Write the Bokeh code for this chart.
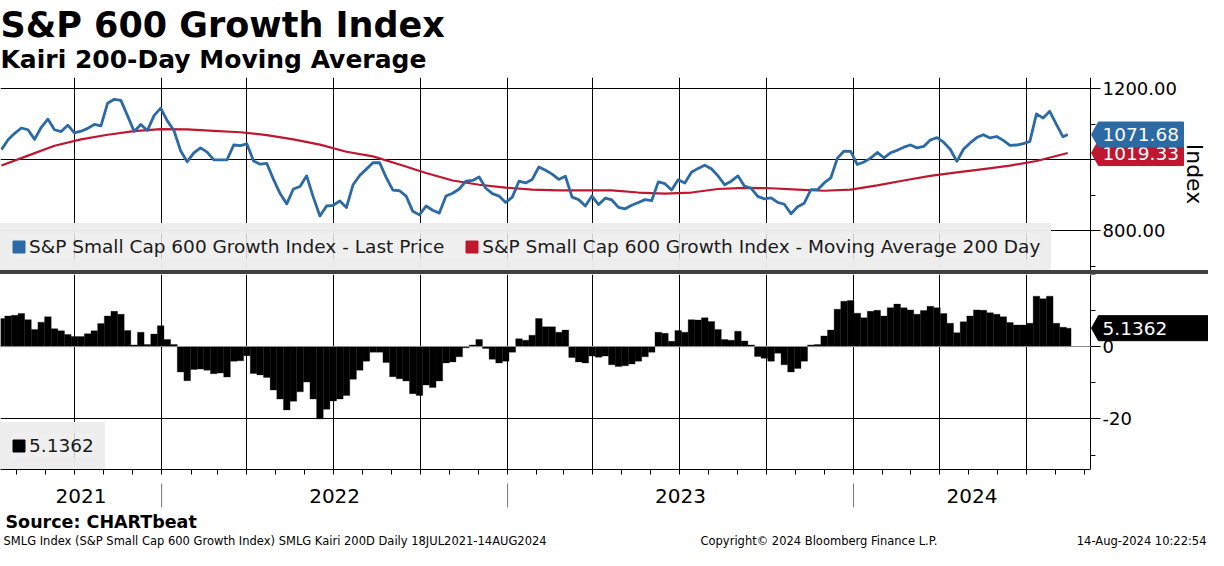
import pandas as pd
from bokeh.plotting import figure
from bokeh.models import (Range1d, LinearAxis, DatetimeAxis, FixedTicker, MonthsTicker, Grid,
                          NumeralTickFormatter, CustomJSTickFormatter, Legend, LegendItem,
                          Label, Div, ColumnDataSource)
from bokeh.layouts import column
from bokeh.core.properties import value
from bokeh.embed import file_html
from bokeh.resources import INLINE

# ---------------- data ----------------
week_first = "2021-07-16"
week_last = "2024-08-09"
last_day = "2024-08-14"

price_weekly = [
    1029, 1057, 1075, 1090, 1085, 1058, 1092, 1115, 1085, 1080,
    1098, 1076, 1081, 1089, 1100, 1096, 1160, 1171, 1168, 1125,
    1080, 1100, 1083, 1125, 1146, 1110, 1083, 1026, 995, 1020,
    1034, 1022, 1000, 1000, 1000, 1042, 1040, 1045, 997, 988,
    990, 945, 905, 876, 918, 925, 955, 895, 842, 870,
    872, 884, 866, 930, 956, 974, 992, 992, 950, 915,
    913, 898, 855, 845, 870, 858, 850, 898, 906, 918,
    940, 942, 952, 920, 905, 898, 880, 895, 940, 935,
    945, 980, 971, 960, 945, 954, 895, 888, 870, 898,
    874, 892, 887, 866, 862, 872, 880, 888, 885, 938,
    933, 915, 944, 935, 965, 976, 985, 975, 955, 930,
    940, 955, 926, 920, 897, 890, 893, 880, 875, 848,
    868, 878, 916, 916, 935, 949, 1005, 1025, 1024, 987,
    994, 1005, 1021, 1006, 1020, 1027, 1036, 1042, 1034, 1038,
    1056, 1063, 1050, 1030, 996, 1030, 1048, 1063, 1071, 1062,
    1066, 1055, 1041, 1042, 1046, 1052, 1130, 1118, 1137, 1100,
    1065,
]
price_last = 1071.68

ma_every4 = [
    984, 1012, 1040, 1058, 1071, 1081, 1087, 1086, 1082, 1078,
    1070, 1058, 1043, 1023, 1010, 987, 963, 942, 930, 922,
    916, 914, 914, 914, 908, 905, 908, 918, 921, 920,
    916, 913, 916, 928, 942, 955, 965, 974, 984, 997,
    1016,
]
ma_last = 1019.33

kairi_weekly = [
    7.8, 8.5, 8.7, 9.2, 7.5, 4.8, 6.8, 8.3, 5.0, 4.4,
    3.4, 2.8, 2.8, 3.6, 4.4, 6.4, 8.5, 9.8, 9.0, 4.5,
    0.5, 4.0, 0.6, 3.5, 5.8, 2.0, 0.6, -7.0, -9.4, -6.3,
    -6.2, -6.5, -7.5, -7.3, -8.4, -4.0, -3.9, -2.5, -7.4, -7.8,
    -8.5, -12.0, -14.5, -17.5, -15.1, -12.5, -9.8, -14.5, -20.0, -17.3,
    -15.0, -14.5, -13.5, -9.0, -6.5, -4.0, -1.5, -1.5, -4.4, -8.3,
    -8.9, -9.5, -13.0, -13.5, -10.6, -11.3, -9.5, -4.5, -4.2, -2.8,
    -0.3, 0.5, 2.0, -0.5, -3.5, -4.5, -4.0, -1.5, 2.2, 1.8,
    3.2, 7.8, 5.5, 5.5, 4.0, 4.6, -3.0, -4.2, -4.5, -2.6,
    -2.9, -2.6, -5.0, -5.5, -5.3, -4.8, -4.0, -2.8, -1.5, 4.0,
    3.7, 1.5, 4.5, 4.0, 7.5, 7.4, 8.0, 7.0, 4.8, 2.0,
    1.8, 4.3, 1.6, 0.5, -2.7, -3.2, -4.0, -1.8, -5.0, -7.0,
    -6.0, -4.0, 0.5, 0.6, 3.0, 4.6, 10.4, 12.6, 12.8, 9.3,
    8.0, 9.8, 10.1, 8.5, 10.8, 11.8, 10.8, 10.2, 9.0, 10.0,
    11.2, 10.8, 9.2, 6.5, 3.9, 6.9, 8.5, 10.2, 10.1, 9.4,
    9.0, 8.3, 6.7, 6.0, 6.0, 6.5, 14.0, 13.3, 14.0, 6.5,
    5.4,
]
kairi_last = 5.1362

year_starts = ["2022-01-01", "2023-01-01", "2024-01-01"]
year_labels = ["2021", "2022", "2023", "2024"]
price_ticks = [800, 1000, 1200]
price_minor = [700, 900, 1100]
kairi_ticks = [-20, 0]
kairi_minor = [-30, -10, 10, 20]

title_text = "S&P 600 Growth Index"
subtitle_text = "Kairi 200-Day Moving Average"
legend_price = "S&P Small Cap 600 Growth Index - Last Price"
legend_ma = "S&P Small Cap 600 Growth Index - Moving Average 200 Day"
source_text = "Source: CHARTbeat"
footer_left = "SMLG Index (S&P Small Cap 600 Growth Index) SMLG Kairi 200D  Daily 18JUL2021-14AUG2024"
footer_mid = "Copyright\u00a9 2024 Bloomberg Finance L.P."
footer_right = "14-Aug-2024 10:22:54"

# ---------------- derived containers ----------------
dates = list(pd.date_range(week_first, week_last, freq="7D")) + [pd.Timestamp(last_day)]
price = price_weekly + [price_last]
kairi = kairi_weekly + [kairi_last]
ma_dates = dates[:-1][::4] + [dates[-1]]
ma = ma_every4 + [ma_last]

src_price = ColumnDataSource(dict(date=dates, price=price, kairi=kairi))
src_ma = ColumnDataSource(dict(date=ma_dates, ma=ma))

# ---------------- styling / layout constants ----------------
BLUE = "#2c6aa5"
RED = "#bf1730"
FONT = "DejaVu Sans"
LEG_BG = "#ececec"
W = 1208          # full width
FW = 1090         # x position of the value axis (plot area width)
H0 = 77           # title band
FH1 = 193         # price panel
SEP = 4
FH2 = 195         # kairi panel
BOT2 = 8          # month tick marks
H3 = 550 - H0 - FH1 - SEP - FH2 - BOT2
DAY = 86400000
BASE = 0.37       # baseline correction (fraction of font size)

EPOCH = pd.Timestamp("1970-01-01")


def ms(t):
    return (pd.Timestamp(t) - EPOCH) / pd.Timedelta(milliseconds=1)


x_start = pd.Timestamp("2021-07-15")
x_end = pd.Timestamp("2024-09-07")
x_ext = x_start + (x_end - x_start) * (W / FW)
xr = Range1d(x_start, x_ext)
yr1 = Range1d(688.1, 1232.4)
yr2 = Range1d(-34, 20)


def base_fig(height, y_range, bottom=0):
    p = figure(width=W, height=height, x_range=xr, y_range=y_range,
               x_axis_type="datetime", x_axis_location=None, y_axis_location=None,
               output_backend="svg", toolbar_location=None,
               min_border_left=0, min_border_right=0, min_border_top=0,
               min_border_bottom=bottom)
    p.outline_line_color = None
    p.background_fill_color = "white"
    p.border_fill_color = "white"
    p.extra_x_ranges = {"px": Range1d(0, W)}
    return p


def limit_cross(grid):
    try:
        grid.cross_bounds = (ms(x_start), ms(x_end))
        return True
    except AttributeError:
        return False


def style_grid(g, color="black"):
    g.grid_line_color = color
    g.grid_line_width = 1
    g.grid_line_alpha = 1.0


def right_axis(p, ticks, minor, fmt, label=None):
    ax = LinearAxis(ticker=FixedTicker(ticks=ticks, minor_ticks=minor),
                    formatter=NumeralTickFormatter(format=fmt),
                    fixed_location=ms(x_end))
    ax.axis_line_color = "black"
    ax.major_tick_line_color = "black"
    ax.minor_tick_line_color = "black"
    ax.major_tick_in = 0
    ax.major_tick_out = 10
    ax.minor_tick_in = 0
    ax.minor_tick_out = 5
    ax.major_label_standoff = 2
    ax.major_label_text_font = FONT
    ax.major_label_text_font_size = "18px"
    ax.major_label_text_color = "black"
    if label:
        ax.axis_label = label
        ax.axis_label_text_font = FONT
        ax.axis_label_text_font_size = "22px"
        ax.axis_label_text_font_style = "normal"
        ax.axis_label_text_color = "black"
        ax.axis_label_standoff = 2
    p.add_layout(ax, "right")
    return ax


def badge(p, yval, y_range, fh, color, text, right, line_color):
    hh = 12.5 * (y_range.end - y_range.start) / fh
    xs = [FW + 1, FW + 8, FW + right, FW + right, FW + 8]
    ys = [yval, yval + hh, yval + hh, yval - hh, yval - hh]
    r = p.patch(x=xs, y=ys, x_range_name="px", fill_color=color, fill_alpha=1.0,
                line_color=line_color, line_width=1, level="overlay")
    p.text(x=[FW + 12], y=[yval], text=[text], x_range_name="px", text_baseline="middle",
           text_align="left", text_color="white", text_font=value(FONT),
           text_font_size="18.5px", level="overlay")
    return r


def make_legend(items):
    lg = Legend(items=items, location="bottom_left", orientation="horizontal")
    lg.padding = 0
    lg.margin = 0
    lg.spacing = 20
    lg.glyph_width = 15
    lg.glyph_height = 15
    lg.label_standoff = 3
    lg.label_height = 25
    lg.label_text_font = FONT
    lg.label_text_font_size = "18.5px"
    lg.label_text_color = "#1a1a1a"
    lg.border_line_color = LEG_BG
    lg.border_line_width = 11
    lg.border_line_alpha = 0.85
    lg.background_fill_color = LEG_BG
    lg.background_fill_alpha = 0.85
    return lg


def label(p, x, y_bottom, text, size, bold=False, align="left", x_range_name="default"):
    """Text whose alphabetic baseline sits y_bottom pixels above the frame bottom."""
    kw = dict(x=x, y=y_bottom + BASE * size, text=text, text_font=FONT,
              text_font_size=f"{size}px", text_font_style="bold" if bold else "normal",
              text_color="black", text_baseline="alphabetic", text_align=align)
    if x_range_name != "default":
        kw["x_range_name"] = x_range_name
    p.add_layout(Label(**kw))


# ---------------- title band ----------------
p0 = figure(width=W, height=H0, x_range=Range1d(0, W), y_range=Range1d(0, H0),
            x_axis_location=None, y_axis_location=None, output_backend="svg",
            toolbar_location=None, min_border_left=0, min_border_right=0,
            min_border_top=0, min_border_bottom=0)
p0.outline_line_color = None
p0.grid.visible = False
label(p0, 0, H0 - 37, title_text, 35, bold=True)
label(p0, 0, H0 - 68, subtitle_text, 25, bold=True)

# ---------------- top panel: price and MA ----------------
p1 = base_fig(FH1, yr1)
p1.xgrid.ticker = MonthsTicker(months=[0, 3, 6, 9])
p1.xgrid.bounds = (ms(x_start), ms(x_end))
p1.ygrid.ticker = FixedTicker(ticks=price_ticks)
style_grid(p1.xgrid)
style_grid(p1.ygrid)
ok1 = limit_cross(p1.ygrid)

p1.line("date", "ma", source=src_ma, line_color=RED, line_width=2.2, line_join="round")
p1.line("date", "price", source=src_price, line_color=BLUE, line_width=2.8, line_join="round")
if not ok1:
    p1.quad(left=[x_end], right=[x_ext], bottom=[yr1.start], top=[yr1.end],
            fill_color="white", line_color=None)
right_axis(p1, price_ticks, price_minor, "0.00", label="Index")

b_red = badge(p1, ma_last, yr1, FH1, RED, f"{ma_last:.2f}", 93, RED)
b_blue = badge(p1, price_last, yr1, FH1, BLUE, f"{price_last:.2f}", 93, BLUE)
p1.add_layout(make_legend([LegendItem(label=legend_price, renderers=[b_blue]),
                           LegendItem(label=legend_ma, renderers=[b_red])]))

# ---------------- separator ----------------
sep = Div(text="", width=W, height=SEP, margin=(0, 0, 0, 0),
          styles={"background-color": "#404040"})

# ---------------- bottom panel: Kairi ----------------
p2 = base_fig(FH2 + BOT2, yr2, bottom=BOT2)
p2.xgrid.ticker = MonthsTicker(months=[0, 3, 6, 9])
p2.xgrid.bounds = (ms(x_start), ms(x_end))
p2.ygrid.ticker = FixedTicker(ticks=[kairi_ticks[0]])
style_grid(p2.xgrid)
style_grid(p2.ygrid)
ok2 = limit_cross(p2.ygrid)
zero_grid = Grid(dimension=1, ticker=FixedTicker(ticks=[0]), level="annotation")
style_grid(zero_grid, "#8c8c8c")
limit_cross(zero_grid)
p2.add_layout(zero_grid, "center")

p2.vbar(x="date", top="kairi", bottom=0, width=7 * DAY, source=src_price,
        fill_color="black", line_color="black", line_width=0.3)
if not ok2:
    p2.quad(left=[x_end], right=[x_ext], bottom=[yr2.start], top=[yr2.end],
            fill_color="white", line_color=None, level="annotation")
right_axis(p2, kairi_ticks, kairi_minor, "0")

xax = DatetimeAxis(ticker=MonthsTicker(months=list(range(12))),
                   formatter=CustomJSTickFormatter(code="return ''"),
                   bounds=(ms(x_start), ms(x_end)))
xax.axis_line_color = "black"
xax.major_tick_line_color = "black"
xax.major_tick_in = 0
xax.major_tick_out = 5
xax.minor_tick_line_color = None
xax.major_label_standoff = 0
xax.major_label_text_font_size = "1px"
p2.add_layout(xax, "below")

b_black = badge(p2, kairi_last, yr2, FH2, "black", f"{kairi_last:.4f}", W - FW, "black")
p2.add_layout(make_legend([LegendItem(label=f"{kairi_last:.4f}", renderers=[b_black])]))

# ---------------- year band and footer ----------------
p3 = base_fig(H3, Range1d(0, H3))
p3.xgrid.visible = False
p3.ygrid.visible = False
bounds = [x_start] + [pd.Timestamp(d) for d in year_starts] + [x_end]
year_mid = [bounds[i] + (bounds[i + 1] - bounds[i]) / 2 for i in range(len(year_labels))]
sep_x = [pd.Timestamp(d) for d in year_starts]
p3.segment(x0=sep_x, y0=[H3 - 6] * len(sep_x), x1=sep_x, y1=[H3 - 30] * len(sep_x),
           line_color="#777777", line_width=1)
p3.text(x=year_mid, y=[H3 - 26 + BASE * 20] * len(year_mid), text=year_labels,
        text_align="center", text_baseline="alphabetic", text_font=value(FONT),
        text_font_size="20px", text_color="black")
label(p3, 5, 22, source_text, 17.5, bold=True, x_range_name="px")
label(p3, 3, 5, footer_left, 11.5, x_range_name="px")
label(p3, 700, 5, footer_mid, 11.5, x_range_name="px")
label(p3, W - 2, 5, footer_right, 11.5, align="right", x_range_name="px")

layout = column(p0, p1, sep, p2, p3, spacing=0)
open("out.html", "w").write(file_html(layout, INLINE))
